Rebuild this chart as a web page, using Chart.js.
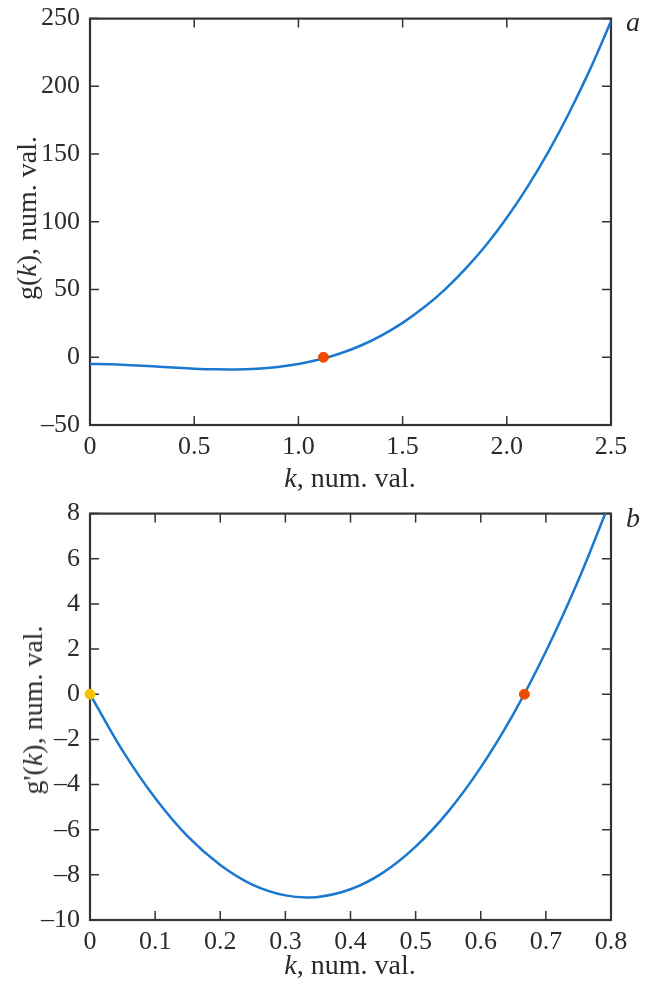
<!DOCTYPE html>
<html lang="en">
<head>
    <meta charset="UTF-8">
    <title>g(k) and g'(k)</title>
    <script src="https://cdn.jsdelivr.net/npm/chart.js"></script>
    <style>
        body {
            margin: 0;
            background: #fff;
            font-family: "Liberation Serif", "DejaVu Serif", serif;
            color: #2b2b2b;
        }
        #wrap {
            position: relative;
            width: 651px;
            height: 985px;
            overflow: hidden;
        }
        canvas {
            position: absolute;
            left: 0;
        }
        .lbl {
            position: absolute;
            font-size: 28px;
            white-space: nowrap;
            transform: translate(-50%, -50%);
        }
        .rot {
            transform: translate(-50%, -50%) rotate(-90deg);
        }
    </style>
</head>
<body>
<div id="wrap">
    <canvas id="chartA" width="651" height="490" style="top:-7px"></canvas>
    <canvas id="chartB" width="651" height="497" style="top:488px"></canvas>

    <div class="lbl" style="left:350px; top:478px"><i>k</i>, num. val.</div>
    <div class="lbl rot" style="left:27px; top:218px">g(<i>k</i>), num. val.</div>
    <div class="lbl" style="left:633px; top:22px"><i>a</i></div>

    <div class="lbl" style="left:350px; top:965px"><i>k</i>, num. val.</div>
    <div class="lbl rot" style="left:33px; top:710px">g'(<i>k</i>), num. val.</div>
    <div class="lbl" style="left:633px; top:518px"><i>b</i></div>
</div>

<script>
    // panel a: g(k)
    const gK = [0, 0.1, 0.2, 0.3, 0.4, 0.5, 0.6, 0.7, 0.8, 0.9, 1.0, 1.1, 1.2, 1.3,
                1.4, 1.5, 1.6, 1.7, 1.8, 1.9, 2.0, 2.1, 2.2, 2.3, 2.4, 2.5];
    const gVal = [-5, -5.2, -5.9, -6.7, -7.6, -8.4, -8.9, -9.0, -8.5, -7.2, -5, -1.7,
                  2.8, 8.7, 16.2, 25.4, 36.5, 49.6, 65.0, 82.7, 103, 126, 151.8,
                  180.7, 212.7, 248];
    const gRootK = [1.12];
    const gRootVal = [0];
    const gXTicks = [0, 0.5, 1.0, 1.5, 2.0, 2.5];
    const gXLabels = ['0', '0.5', '1.0', '1.5', '2.0', '2.5'];
    const gYTicks = [-50, 0, 50, 100, 150, 200, 250];
    const gYLabels = ['\u201350', '0', '50', '100', '150', '200', '250'];

    // panel b: g'(k)
    const dK = [0, 0.05, 0.1, 0.15, 0.2, 0.25, 0.3, 0.333, 0.35, 0.4, 0.45, 0.5,
                0.55, 0.6, 0.65, 0.7, 0.75, 0.8];
    const dVal = [0, -2.5, -4.6, -6.3, -7.56, -8.44, -8.91, -9.0, -8.98, -8.64, -7.9,
                  -6.75, -5.2, -3.24, -0.88, 1.89, 5.06, 8.64];
    const dZeroK = [0];
    const dZeroVal = [0];
    const dRootK = [0.667];
    const dRootVal = [0];
    const dXTicks = [0, 0.1, 0.2, 0.3, 0.4, 0.5, 0.6, 0.7, 0.8];
    const dXLabels = ['0', '0.1', '0.2', '0.3', '0.4', '0.5', '0.6', '0.7', '0.8'];
    const dYTicks = [-10, -8, -6, -4, -2, 0, 2, 4, 6, 8];
    const dYLabels = ['\u201310', '\u20138', '\u20136', '\u20134', '\u20132', '0', '2', '4', '6', '8'];

    const lineColor = '#1a78cf';
    const red = '#f04a00';
    const yellow = '#f8c200';
    const ink = '#333333';
    const tickFont = { family: '"Liberation Serif", serif', size: 26 };

    // box round the plot with inward ticks on all four sides
    const frame = {
        id: 'frame',
        beforeDatasetsDraw(chart) {
            const { ctx, chartArea: a, scales: { x, y } } = chart;
            ctx.save();
            ctx.strokeStyle = ink;
            ctx.lineWidth = 1.5;
            ctx.beginPath();
            x.ticks.forEach(t => {
                const px = x.getPixelForValue(t.value);
                ctx.moveTo(px, a.bottom); ctx.lineTo(px, a.bottom - 9);
                ctx.moveTo(px, a.top); ctx.lineTo(px, a.top + 9);
            });
            y.ticks.forEach(t => {
                const py = y.getPixelForValue(t.value);
                ctx.moveTo(a.left, py); ctx.lineTo(a.left + 9, py);
                ctx.moveTo(a.right, py); ctx.lineTo(a.right - 9, py);
            });
            ctx.stroke();
            ctx.lineWidth = 2.2;
            ctx.strokeRect(a.left, a.top, a.width, a.height);
            ctx.restore();
        }
    };

    function axis(min, max, values, labels, isX, size) {
        return {
            type: 'linear',
            position: isX ? 'bottom' : 'left',
            min: min,
            max: max,
            grid: { display: false, drawTicks: false },
            border: { display: false },
            afterBuildTicks: s => { s.ticks = values.map(v => ({ value: v })); },
            afterFit: s => { if (isX) s.height = size; else s.width = size; },
            ticks: {
                autoSkip: false,
                maxRotation: 0,
                padding: isX ? 7 : 10,
                color: '#2b2b2b',
                font: tickFont,
                callback: (v, i) => labels[i]
            }
        };
    }

    function curve(xs, ys) {
        return {
            data: xs.map((x, i) => ({ x: x, y: ys[i] })),
            showLine: true,
            borderColor: lineColor,
            borderWidth: 2.5,
            pointRadius: 0,
            cubicInterpolationMode: 'monotone',
            order: 2
        };
    }

    function dot(xs, ys, color) {
        return {
            data: xs.map((x, i) => ({ x: x, y: ys[i] })),
            backgroundColor: color,
            borderColor: color,
            pointRadius: 5,
            clip: false,
            order: 1
        };
    }

    function common() {
        return {
            responsive: false,
            animation: false,
            layout: { padding: { top: 0, right: 40, left: 0, bottom: 0 } },
            plugins: { legend: { display: false }, tooltip: { enabled: false } },
            scales: {}
        };
    }

    const optA = common();
    optA.scales.x = axis(0, 2.5, gXTicks, gXLabels, true, 58);
    optA.scales.y = axis(-50, 250, gYTicks, gYLabels, false, 90);
    new Chart(document.getElementById('chartA'), {
        type: 'scatter',
        data: { datasets: [curve(gK, gVal), dot(gRootK, gRootVal, red)] },
        options: optA,
        plugins: [frame]
    });

    const optB = common();
    optB.scales.x = axis(0, 0.8, dXTicks, dXLabels, true, 65);
    optB.scales.y = axis(-10, 8, dYTicks, dYLabels, false, 90);
    new Chart(document.getElementById('chartB'), {
        type: 'scatter',
        data: { datasets: [curve(dK, dVal), dot(dZeroK, dZeroVal, yellow), dot(dRootK, dRootVal, red)] },
        options: optB,
        plugins: [frame]
    });
</script>
</body>
</html>
